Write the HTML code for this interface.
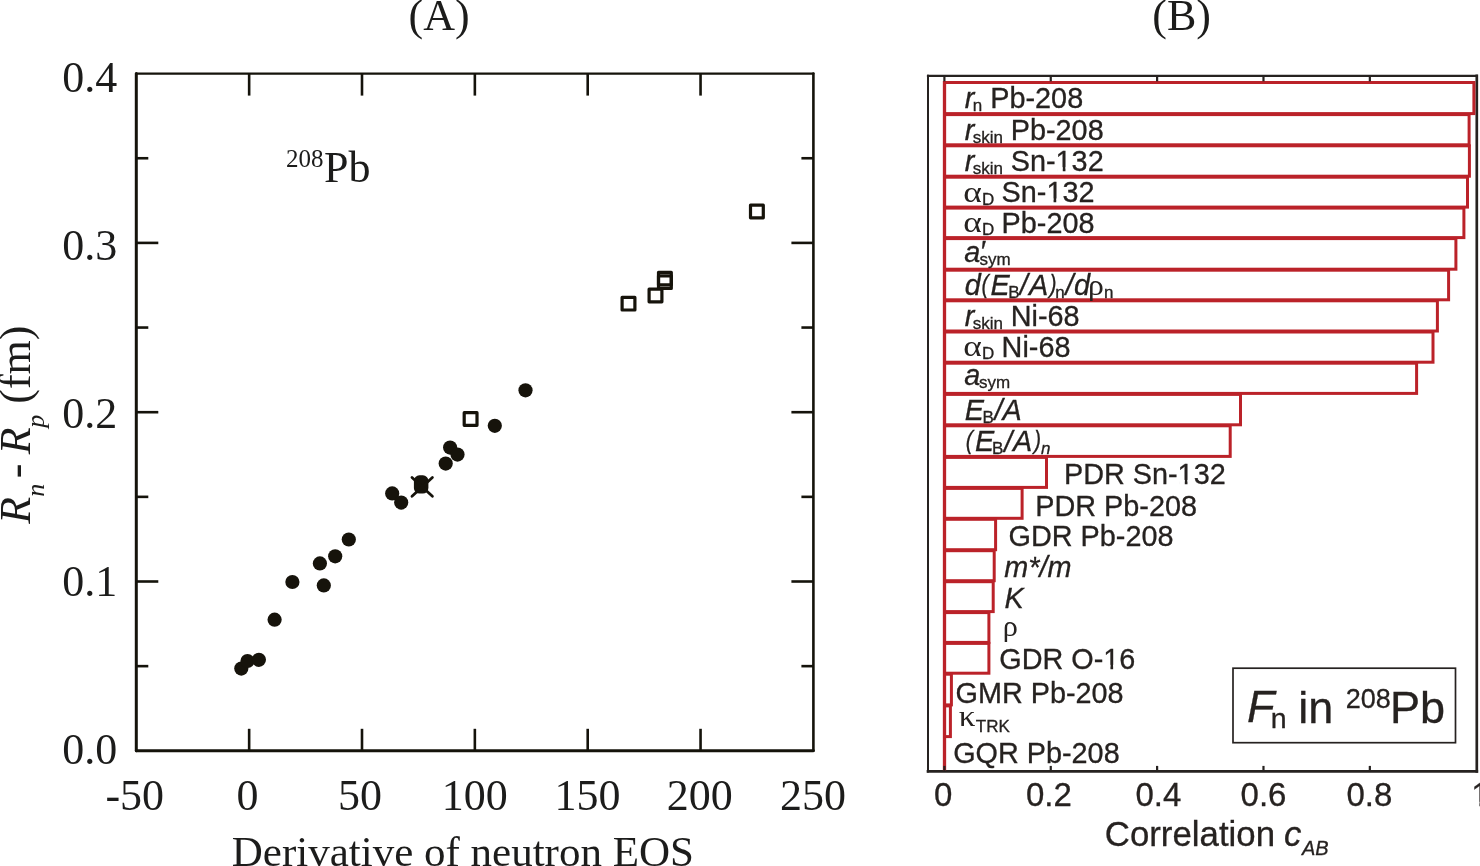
<!DOCTYPE html>
<html><head><meta charset="utf-8"><style>
html,body{margin:0;padding:0;background:#fff;}
body{width:1480px;height:866px;overflow:hidden;}
svg{display:block;will-change:transform;}
</style></head><body>
<svg width="1480" height="866" viewBox="0 0 1480 866">
<rect width="1480" height="866" fill="#fff"/>
<path d="M136.3 73.6L813.4 73.6" stroke="#15130b" stroke-width="2.3" stroke-linecap="round"/>
<path d="M136.3 750.8L813.4 750.8" stroke="#15130b" stroke-width="2.9" stroke-linecap="round"/>
<path d="M136.3 73.6L136.3 750.8" stroke="#15130b" stroke-width="3.0" stroke-linecap="round"/>
<path d="M813.4 73.6L813.4 750.8" stroke="#15130b" stroke-width="2.6" stroke-linecap="round"/>
<line x1="136.3" y1="666.15" x2="148.3" y2="666.15" stroke="#15130b" stroke-width="2.6"/>
<line x1="813.4" y1="666.15" x2="801.4" y2="666.15" stroke="#15130b" stroke-width="2.6"/>
<line x1="136.3" y1="581.50" x2="158.3" y2="581.50" stroke="#15130b" stroke-width="2.6"/>
<line x1="813.4" y1="581.50" x2="791.4" y2="581.50" stroke="#15130b" stroke-width="2.6"/>
<line x1="136.3" y1="496.85" x2="148.3" y2="496.85" stroke="#15130b" stroke-width="2.6"/>
<line x1="813.4" y1="496.85" x2="801.4" y2="496.85" stroke="#15130b" stroke-width="2.6"/>
<line x1="136.3" y1="412.20" x2="158.3" y2="412.20" stroke="#15130b" stroke-width="2.6"/>
<line x1="813.4" y1="412.20" x2="791.4" y2="412.20" stroke="#15130b" stroke-width="2.6"/>
<line x1="136.3" y1="327.55" x2="148.3" y2="327.55" stroke="#15130b" stroke-width="2.6"/>
<line x1="813.4" y1="327.55" x2="801.4" y2="327.55" stroke="#15130b" stroke-width="2.6"/>
<line x1="136.3" y1="242.90" x2="158.3" y2="242.90" stroke="#15130b" stroke-width="2.6"/>
<line x1="813.4" y1="242.90" x2="791.4" y2="242.90" stroke="#15130b" stroke-width="2.6"/>
<line x1="136.3" y1="158.25" x2="148.3" y2="158.25" stroke="#15130b" stroke-width="2.6"/>
<line x1="813.4" y1="158.25" x2="801.4" y2="158.25" stroke="#15130b" stroke-width="2.6"/>
<line x1="249.15" y1="750.8" x2="249.15" y2="728.8" stroke="#15130b" stroke-width="2.6"/>
<line x1="249.15" y1="73.6" x2="249.15" y2="95.6" stroke="#15130b" stroke-width="2.6"/>
<line x1="362.00" y1="750.8" x2="362.00" y2="728.8" stroke="#15130b" stroke-width="2.6"/>
<line x1="362.00" y1="73.6" x2="362.00" y2="95.6" stroke="#15130b" stroke-width="2.6"/>
<line x1="474.85" y1="750.8" x2="474.85" y2="728.8" stroke="#15130b" stroke-width="2.6"/>
<line x1="474.85" y1="73.6" x2="474.85" y2="95.6" stroke="#15130b" stroke-width="2.6"/>
<line x1="587.70" y1="750.8" x2="587.70" y2="728.8" stroke="#15130b" stroke-width="2.6"/>
<line x1="587.70" y1="73.6" x2="587.70" y2="95.6" stroke="#15130b" stroke-width="2.6"/>
<line x1="700.55" y1="750.8" x2="700.55" y2="728.8" stroke="#15130b" stroke-width="2.6"/>
<line x1="700.55" y1="73.6" x2="700.55" y2="95.6" stroke="#15130b" stroke-width="2.6"/>
<circle cx="241.3" cy="668.6" r="7.1" fill="#16130b"/>
<circle cx="247.5" cy="661" r="7.1" fill="#16130b"/>
<circle cx="258.9" cy="659.8" r="7.1" fill="#16130b"/>
<circle cx="274.6" cy="619.7" r="7.1" fill="#16130b"/>
<circle cx="292.4" cy="582.0" r="7.1" fill="#16130b"/>
<circle cx="319.9" cy="563.4" r="7.1" fill="#16130b"/>
<circle cx="323.8" cy="585.4" r="7.1" fill="#16130b"/>
<circle cx="335.2" cy="556.3" r="7.1" fill="#16130b"/>
<circle cx="348.8" cy="539.5" r="7.1" fill="#16130b"/>
<circle cx="392.2" cy="493.4" r="7.1" fill="#16130b"/>
<circle cx="401.2" cy="502.6" r="7.1" fill="#16130b"/>
<circle cx="445.7" cy="463.6" r="7.1" fill="#16130b"/>
<circle cx="450.1" cy="447.6" r="7.1" fill="#16130b"/>
<circle cx="457.5" cy="454.6" r="7.1" fill="#16130b"/>
<circle cx="494.8" cy="425.8" r="7.1" fill="#16130b"/>
<circle cx="525.5" cy="390.3" r="7.1" fill="#16130b"/>
<rect x="413.9" y="475.3" width="14.5" height="18.3" rx="5.5" fill="#16130b"/>
<path d="M412.0 477.5L432.4 496.29999999999995M432.4 477.5L412.0 496.29999999999995" stroke="#16130b" stroke-width="2.8" stroke-linecap="round"/>
<rect x="464.20000000000005" y="412.7" width="12.8" height="12.6" fill="none" stroke="#16130b" stroke-width="3.2" stroke-linejoin="round"/>
<rect x="622.1" y="297.4" width="12.8" height="12.6" fill="none" stroke="#16130b" stroke-width="3.2" stroke-linejoin="round"/>
<rect x="649.1" y="289.2" width="12.8" height="12.6" fill="none" stroke="#16130b" stroke-width="3.2" stroke-linejoin="round"/>
<rect x="658.5" y="272.3" width="12.8" height="12.6" fill="none" stroke="#16130b" stroke-width="3.2" stroke-linejoin="round"/>
<rect x="658.5" y="275.8" width="12.8" height="12.6" fill="none" stroke="#16130b" stroke-width="3.2" stroke-linejoin="round"/>
<rect x="750.5" y="205.2" width="12.8" height="12.6" fill="none" stroke="#16130b" stroke-width="3.2" stroke-linejoin="round"/>
<g transform="translate(30.2 523.7) rotate(-90)" font-family="'Liberation Serif', serif" fill="#1c1c1b"><text x="0" y="0" font-size="44" font-style="italic">R</text><text x="27" y="14" font-size="26" font-style="italic">n</text><text x="45.5" y="0" font-size="44">-</text><text x="69.5" y="0" font-size="44" font-style="italic">R</text><text x="96" y="14" font-size="26" font-style="italic">p</text><text x="120" y="0" font-size="44">(fm)</text></g>
<path d="M928.0 75.8L1476.8 75.8" stroke="#262220" stroke-width="2.2" stroke-linecap="square"/>
<path d="M928.0 771.4L1476.8 771.4" stroke="#262220" stroke-width="2.7" stroke-linecap="square"/>
<path d="M928.0 75.8L928.0 771.4" stroke="#262220" stroke-width="2.0" stroke-linecap="square"/>
<path d="M1476.8 75.8L1476.8 771.4" stroke="#262220" stroke-width="2.7" stroke-linecap="square"/>
<rect x="944.5" y="82.50" width="529.40" height="31.10" fill="none" stroke="#bb2229" stroke-width="3"/>
<rect x="944.5" y="114.60" width="524.60" height="30.20" fill="none" stroke="#bb2229" stroke-width="3"/>
<rect x="944.5" y="145.80" width="524.90" height="30.40" fill="none" stroke="#bb2229" stroke-width="3"/>
<rect x="944.5" y="177.20" width="523.00" height="29.90" fill="none" stroke="#bb2229" stroke-width="3"/>
<rect x="944.5" y="208.10" width="519.40" height="29.50" fill="none" stroke="#bb2229" stroke-width="3"/>
<rect x="944.5" y="238.60" width="511.40" height="30.60" fill="none" stroke="#bb2229" stroke-width="3"/>
<rect x="944.5" y="270.20" width="504.10" height="29.60" fill="none" stroke="#bb2229" stroke-width="3"/>
<rect x="944.5" y="300.80" width="492.90" height="30.20" fill="none" stroke="#bb2229" stroke-width="3"/>
<rect x="944.5" y="332.00" width="488.50" height="30.20" fill="none" stroke="#bb2229" stroke-width="3"/>
<rect x="944.5" y="363.20" width="472.10" height="30.20" fill="none" stroke="#bb2229" stroke-width="3"/>
<rect x="944.5" y="394.40" width="296.00" height="30.40" fill="none" stroke="#bb2229" stroke-width="3"/>
<rect x="944.5" y="425.80" width="285.70" height="30.60" fill="none" stroke="#bb2229" stroke-width="3"/>
<rect x="944.5" y="457.40" width="102.00" height="30.00" fill="none" stroke="#bb2229" stroke-width="3"/>
<rect x="944.5" y="488.40" width="77.60" height="29.90" fill="none" stroke="#bb2229" stroke-width="3"/>
<rect x="944.5" y="519.30" width="51.10" height="30.40" fill="none" stroke="#bb2229" stroke-width="3"/>
<rect x="944.5" y="550.70" width="49.70" height="30.00" fill="none" stroke="#bb2229" stroke-width="3"/>
<rect x="944.5" y="581.70" width="48.70" height="29.90" fill="none" stroke="#bb2229" stroke-width="3"/>
<rect x="944.5" y="612.60" width="44.40" height="29.80" fill="none" stroke="#bb2229" stroke-width="3"/>
<rect x="944.5" y="643.40" width="44.40" height="29.80" fill="none" stroke="#bb2229" stroke-width="3"/>
<rect x="944.5" y="674.20" width="6.90" height="30.70" fill="none" stroke="#bb2229" stroke-width="3"/>
<rect x="944.5" y="705.90" width="5.90" height="30.70" fill="none" stroke="#bb2229" stroke-width="3"/>
<line x1="944.5" y1="81.0" x2="944.5" y2="770.4" stroke="#bb2229" stroke-width="3.3"/>
<line x1="944.40" y1="75.8" x2="944.40" y2="81.3" stroke="#262220" stroke-width="2.2"/>
<line x1="944.40" y1="771.4" x2="944.40" y2="765.9" stroke="#262220" stroke-width="2.2"/>
<line x1="1050.76" y1="75.8" x2="1050.76" y2="81.3" stroke="#262220" stroke-width="2.2"/>
<line x1="1050.76" y1="771.4" x2="1050.76" y2="765.9" stroke="#262220" stroke-width="2.2"/>
<line x1="1157.12" y1="75.8" x2="1157.12" y2="81.3" stroke="#262220" stroke-width="2.2"/>
<line x1="1157.12" y1="771.4" x2="1157.12" y2="765.9" stroke="#262220" stroke-width="2.2"/>
<line x1="1263.48" y1="75.8" x2="1263.48" y2="81.3" stroke="#262220" stroke-width="2.2"/>
<line x1="1263.48" y1="771.4" x2="1263.48" y2="765.9" stroke="#262220" stroke-width="2.2"/>
<line x1="1369.84" y1="75.8" x2="1369.84" y2="81.3" stroke="#262220" stroke-width="2.2"/>
<line x1="1369.84" y1="771.4" x2="1369.84" y2="765.9" stroke="#262220" stroke-width="2.2"/>
<rect x="1233" y="668.2" width="222.5" height="74.5" fill="none" stroke="#262220" stroke-width="1.7"/>
<text x="408.60" y="29.70" font-family="'Liberation Serif', serif" font-size="44" fill="#1c1c1b">(A)</text>
<text x="1152.30" y="29.70" font-family="'Liberation Serif', serif" font-size="44" fill="#1c1c1b">(B)</text>
<text x="286.00" y="167.20" font-family="'Liberation Serif', serif" font-size="25" fill="#1c1c1b">208</text>
<text x="324.10" y="181.80" font-family="'Liberation Serif', serif" font-size="44" fill="#1c1c1b">Pb</text>
<text x="62.20" y="91.90" font-family="'Liberation Serif', serif" font-size="44" fill="#1c1c1b">0.4</text>
<text x="62.20" y="259.80" font-family="'Liberation Serif', serif" font-size="44" fill="#1c1c1b">0.3</text>
<text x="62.20" y="428.00" font-family="'Liberation Serif', serif" font-size="44" fill="#1c1c1b">0.2</text>
<text x="62.20" y="596.00" font-family="'Liberation Serif', serif" font-size="44" fill="#1c1c1b">0.1</text>
<text x="62.20" y="764.00" font-family="'Liberation Serif', serif" font-size="44" fill="#1c1c1b">0.0</text>
<text x="105.40" y="809.70" font-family="'Liberation Serif', serif" font-size="44" fill="#1c1c1b">-50</text>
<text x="236.60" y="809.70" font-family="'Liberation Serif', serif" font-size="44" fill="#1c1c1b">0</text>
<text x="338.00" y="809.70" font-family="'Liberation Serif', serif" font-size="44" fill="#1c1c1b">50</text>
<text x="441.70" y="809.70" font-family="'Liberation Serif', serif" font-size="44" fill="#1c1c1b">100</text>
<text x="554.50" y="809.70" font-family="'Liberation Serif', serif" font-size="44" fill="#1c1c1b">150</text>
<text x="666.80" y="809.70" font-family="'Liberation Serif', serif" font-size="44" fill="#1c1c1b">200</text>
<text x="780.00" y="809.70" font-family="'Liberation Serif', serif" font-size="44" fill="#1c1c1b">250</text>
<text x="231.80" y="865.60" font-family="'Liberation Serif', serif" font-size="43" fill="#1c1c1b">Derivative of neutron EOS</text>
<text x="964.80" y="107.60" font-family="'Liberation Sans', sans-serif" font-size="28.8" font-style="italic" stroke="#262220" stroke-width="0.3" fill="#262220">r</text>
<text x="972.75" y="110.50" font-family="'Liberation Sans', sans-serif" font-size="17.0" stroke="#262220" stroke-width="0.3" fill="#262220">n</text>
<text x="990.30" y="107.60" font-family="'Liberation Sans', sans-serif" font-size="28.8" stroke="#262220" stroke-width="0.3" fill="#262220">Pb-208</text>
<text x="964.80" y="139.80" font-family="'Liberation Sans', sans-serif" font-size="28.8" font-style="italic" stroke="#262220" stroke-width="0.3" fill="#262220">r</text>
<text x="972.75" y="142.90" font-family="'Liberation Sans', sans-serif" font-size="17.0" stroke="#262220" stroke-width="0.3" fill="#262220">skin</text>
<text x="1010.80" y="139.80" font-family="'Liberation Sans', sans-serif" font-size="28.8" stroke="#262220" stroke-width="0.3" fill="#262220">Pb-208</text>
<text x="964.80" y="171.00" font-family="'Liberation Sans', sans-serif" font-size="28.8" font-style="italic" stroke="#262220" stroke-width="0.3" fill="#262220">r</text>
<text x="972.75" y="173.80" font-family="'Liberation Sans', sans-serif" font-size="17.0" stroke="#262220" stroke-width="0.3" fill="#262220">skin</text>
<text x="1010.80" y="171.00" font-family="'Liberation Sans', sans-serif" font-size="28.8" stroke="#262220" stroke-width="0.3" fill="#262220">Sn-132</text>
<text transform="translate(963.30 202.00) scale(1.2 1)" font-family="'Liberation Serif', serif" font-size="29.5" fill="#262220">α</text>
<text x="982.00" y="204.80" font-family="'Liberation Sans', sans-serif" font-size="17.0" stroke="#262220" stroke-width="0.3" fill="#262220">D</text>
<text x="1001.60" y="202.30" font-family="'Liberation Sans', sans-serif" font-size="28.8" stroke="#262220" stroke-width="0.3" fill="#262220">Sn-132</text>
<text transform="translate(963.30 232.30) scale(1.2 1)" font-family="'Liberation Serif', serif" font-size="29.5" fill="#262220">α</text>
<text x="982.00" y="235.10" font-family="'Liberation Sans', sans-serif" font-size="17.0" stroke="#262220" stroke-width="0.3" fill="#262220">D</text>
<text x="1001.60" y="232.60" font-family="'Liberation Sans', sans-serif" font-size="28.8" stroke="#262220" stroke-width="0.3" fill="#262220">Pb-208</text>
<text x="964.30" y="262.30" font-family="'Liberation Sans', sans-serif" font-size="28.8" font-style="italic" stroke="#262220" stroke-width="0.3" fill="#262220">a</text>
<text x="979.60" y="261.20" font-family="'Liberation Sans', sans-serif" font-size="28.8" font-style="italic" stroke="#262220" stroke-width="0.3" fill="#262220">′</text>
<text x="979.60" y="265.30" font-family="'Liberation Sans', sans-serif" font-size="17.0" stroke="#262220" stroke-width="0.3" fill="#262220">sym</text>
<text x="964.70" y="294.90" font-family="'Liberation Sans', sans-serif" font-size="28.8" font-style="italic" stroke="#262220" stroke-width="0.3" fill="#262220">d</text>
<text transform="translate(981.60 293.00) scale(0.82 1)" font-family="'Liberation Sans', sans-serif" font-size="26" font-style="italic" stroke="#262220" stroke-width="0.3" fill="#262220">(</text>
<text x="990.40" y="294.70" font-family="'Liberation Sans', sans-serif" font-size="28.8" font-style="italic" stroke="#262220" stroke-width="0.3" fill="#262220">E</text>
<text x="1008.30" y="297.70" font-family="'Liberation Sans', sans-serif" font-size="17.0" stroke="#262220" stroke-width="0.3" fill="#262220">B</text>
<text x="1019.80" y="295.20" font-family="'Liberation Sans', sans-serif" font-size="28.8" font-style="italic" stroke="#262220" stroke-width="0.3" fill="#262220">/</text>
<text x="1028.90" y="294.70" font-family="'Liberation Sans', sans-serif" font-size="28.8" font-style="italic" stroke="#262220" stroke-width="0.3" fill="#262220">A</text>
<text transform="translate(1049.50 292.80) scale(0.82 1)" font-family="'Liberation Sans', sans-serif" font-size="26" font-style="italic" stroke="#262220" stroke-width="0.3" fill="#262220">)</text>
<text x="1055.20" y="297.80" font-family="'Liberation Sans', sans-serif" font-size="17.0" stroke="#262220" stroke-width="0.3" fill="#262220">n</text>
<text x="1065.60" y="295.10" font-family="'Liberation Sans', sans-serif" font-size="28.8" font-style="italic" stroke="#262220" stroke-width="0.3" fill="#262220">/</text>
<text x="1074.10" y="294.90" font-family="'Liberation Sans', sans-serif" font-size="28.8" font-style="italic" stroke="#262220" stroke-width="0.3" fill="#262220">d</text>
<text transform="translate(1088.00 294.50) scale(1.1 1)" font-family="'Liberation Serif', serif" font-size="28.8" fill="#262220">ρ</text>
<text x="1104.10" y="297.80" font-family="'Liberation Sans', sans-serif" font-size="17.0" stroke="#262220" stroke-width="0.3" fill="#262220">n</text>
<text x="964.80" y="325.70" font-family="'Liberation Sans', sans-serif" font-size="28.8" font-style="italic" stroke="#262220" stroke-width="0.3" fill="#262220">r</text>
<text x="972.75" y="328.90" font-family="'Liberation Sans', sans-serif" font-size="17.0" stroke="#262220" stroke-width="0.3" fill="#262220">skin</text>
<text x="1010.80" y="325.70" font-family="'Liberation Sans', sans-serif" font-size="28.8" stroke="#262220" stroke-width="0.3" fill="#262220">Ni-68</text>
<text transform="translate(963.30 356.20) scale(1.2 1)" font-family="'Liberation Serif', serif" font-size="29.5" fill="#262220">α</text>
<text x="982.00" y="359.20" font-family="'Liberation Sans', sans-serif" font-size="17.0" stroke="#262220" stroke-width="0.3" fill="#262220">D</text>
<text x="1001.60" y="356.50" font-family="'Liberation Sans', sans-serif" font-size="28.8" stroke="#262220" stroke-width="0.3" fill="#262220">Ni-68</text>
<text x="964.30" y="385.20" font-family="'Liberation Sans', sans-serif" font-size="28.8" font-style="italic" stroke="#262220" stroke-width="0.3" fill="#262220">a</text>
<text x="978.90" y="388.20" font-family="'Liberation Sans', sans-serif" font-size="17.0" stroke="#262220" stroke-width="0.3" fill="#262220">sym</text>
<text x="964.80" y="420.40" font-family="'Liberation Sans', sans-serif" font-size="28.8" font-style="italic" stroke="#262220" stroke-width="0.3" fill="#262220">E</text>
<text x="982.60" y="423.10" font-family="'Liberation Sans', sans-serif" font-size="17.0" stroke="#262220" stroke-width="0.3" fill="#262220">B</text>
<text x="994.40" y="420.40" font-family="'Liberation Sans', sans-serif" font-size="28.8" font-style="italic" stroke="#262220" stroke-width="0.3" fill="#262220">/A</text>
<text transform="translate(965.80 449.10) scale(0.82 1)" font-family="'Liberation Sans', sans-serif" font-size="26" font-style="italic" stroke="#262220" stroke-width="0.3" fill="#262220">(</text>
<text x="974.90" y="451.00" font-family="'Liberation Sans', sans-serif" font-size="28.8" font-style="italic" stroke="#262220" stroke-width="0.3" fill="#262220">E</text>
<text x="992.10" y="453.70" font-family="'Liberation Sans', sans-serif" font-size="17.0" stroke="#262220" stroke-width="0.3" fill="#262220">B</text>
<text x="1004.20" y="451.70" font-family="'Liberation Sans', sans-serif" font-size="28.8" font-style="italic" stroke="#262220" stroke-width="0.3" fill="#262220">/</text>
<text x="1013.00" y="451.00" font-family="'Liberation Sans', sans-serif" font-size="28.8" font-style="italic" stroke="#262220" stroke-width="0.3" fill="#262220">A</text>
<text transform="translate(1034.00 449.10) scale(0.82 1)" font-family="'Liberation Sans', sans-serif" font-size="26" font-style="italic" stroke="#262220" stroke-width="0.3" fill="#262220">)</text>
<text x="1041.10" y="454.00" font-family="'Liberation Sans', sans-serif" font-size="17.0" font-style="italic" stroke="#262220" stroke-width="0.3" fill="#262220">n</text>
<text x="1064.00" y="483.70" font-family="'Liberation Sans', sans-serif" font-size="28.8" stroke="#262220" stroke-width="0.3" fill="#262220">PDR Sn-132</text>
<text x="1035.30" y="515.90" font-family="'Liberation Sans', sans-serif" font-size="28.8" stroke="#262220" stroke-width="0.3" fill="#262220">PDR Pb-208</text>
<text x="1008.60" y="545.90" font-family="'Liberation Sans', sans-serif" font-size="28.8" stroke="#262220" stroke-width="0.3" fill="#262220">GDR Pb-208</text>
<text x="1004.20" y="577.00" font-family="'Liberation Sans', sans-serif" font-size="28.8" font-style="italic" stroke="#262220" stroke-width="0.3" fill="#262220">m*/m</text>
<text x="1004.50" y="607.80" font-family="'Liberation Sans', sans-serif" font-size="28.8" font-style="italic" stroke="#262220" stroke-width="0.3" fill="#262220">K</text>
<text transform="translate(1002.80 635.90) scale(1.05 1)" font-family="'Liberation Serif', serif" font-size="28.8" fill="#262220">ρ</text>
<text x="999.30" y="668.60" font-family="'Liberation Sans', sans-serif" font-size="28.8" stroke="#262220" stroke-width="0.3" fill="#262220">GDR O-16</text>
<text x="955.60" y="703.00" font-family="'Liberation Sans', sans-serif" font-size="28.8" stroke="#262220" stroke-width="0.3" fill="#262220">GMR Pb-208</text>
<text transform="translate(958.80 725.70) scale(1.15 1)" font-family="'Liberation Serif', serif" font-size="28.8" fill="#262220">κ</text>
<text x="975.80" y="732.10" font-family="'Liberation Sans', sans-serif" font-size="17.0" stroke="#262220" stroke-width="0.3" fill="#262220">TRK</text>
<text x="953.20" y="763.10" font-family="'Liberation Sans', sans-serif" font-size="28.8" stroke="#262220" stroke-width="0.3" fill="#262220">GQR Pb-208</text>
<text x="1247.10" y="722.40" font-family="'Liberation Sans', sans-serif" font-size="45" font-style="italic" stroke="#262220" stroke-width="0.3" fill="#262220">F</text>
<text x="1270.70" y="727.60" font-family="'Liberation Sans', sans-serif" font-size="28.5" stroke="#262220" stroke-width="0.3" fill="#262220">n</text>
<text x="1298.20" y="723.00" font-family="'Liberation Sans', sans-serif" font-size="45" stroke="#262220" stroke-width="0.3" fill="#262220">in</text>
<text x="1345.70" y="708.30" font-family="'Liberation Sans', sans-serif" font-size="27" stroke="#262220" stroke-width="0.3" fill="#262220">208</text>
<text x="1389.90" y="723.00" font-family="'Liberation Sans', sans-serif" font-size="45" stroke="#262220" stroke-width="0.3" fill="#262220">Pb</text>
<text x="1104.80" y="846.00" font-family="'Liberation Sans', sans-serif" font-size="34.8" stroke="#262220" stroke-width="0.3" fill="#262220">Correlation</text>
<text x="1283.90" y="846.00" font-family="'Liberation Sans', sans-serif" font-size="34.8" font-style="italic" stroke="#262220" stroke-width="0.3" fill="#262220">c</text>
<text x="1302.00" y="854.60" font-family="'Liberation Sans', sans-serif" font-size="20" font-style="italic" stroke="#262220" stroke-width="0.3" fill="#262220">AB</text>
<text x="934.10" y="805.90" font-family="'Liberation Sans', sans-serif" font-size="33" stroke="#262220" stroke-width="0.3" fill="#262220">0</text>
<text x="1026.00" y="805.90" font-family="'Liberation Sans', sans-serif" font-size="33" stroke="#262220" stroke-width="0.3" fill="#262220">0.2</text>
<text x="1135.40" y="805.90" font-family="'Liberation Sans', sans-serif" font-size="33" stroke="#262220" stroke-width="0.3" fill="#262220">0.4</text>
<text x="1240.60" y="805.90" font-family="'Liberation Sans', sans-serif" font-size="33" stroke="#262220" stroke-width="0.3" fill="#262220">0.6</text>
<text x="1346.50" y="805.90" font-family="'Liberation Sans', sans-serif" font-size="33" stroke="#262220" stroke-width="0.3" fill="#262220">0.8</text>
<text x="1471.20" y="805.90" font-family="'Liberation Sans', sans-serif" font-size="33" stroke="#262220" stroke-width="0.3" fill="#262220">1</text>
<rect x="1057.04" y="167.24" width="5.73" height="5.16" fill="#fff"/>
<rect x="1065.45" y="167.24" width="5.76" height="5.16" fill="#fff"/>
<rect x="1047.84" y="198.54" width="5.73" height="5.16" fill="#fff"/>
<rect x="1056.25" y="198.54" width="5.76" height="5.16" fill="#fff"/>
<rect x="1179.05" y="479.94" width="5.73" height="5.16" fill="#fff"/>
<rect x="1187.46" y="479.94" width="5.76" height="5.16" fill="#fff"/>
<rect x="1104.71" y="664.84" width="5.73" height="5.16" fill="#fff"/>
<rect x="1113.12" y="664.84" width="5.76" height="5.16" fill="#fff"/>
<rect x="1472.85" y="801.79" width="6.57" height="5.51" fill="#fff"/>
<rect x="1482.49" y="801.79" width="6.60" height="5.51" fill="#fff"/>
</svg>
</body></html>
